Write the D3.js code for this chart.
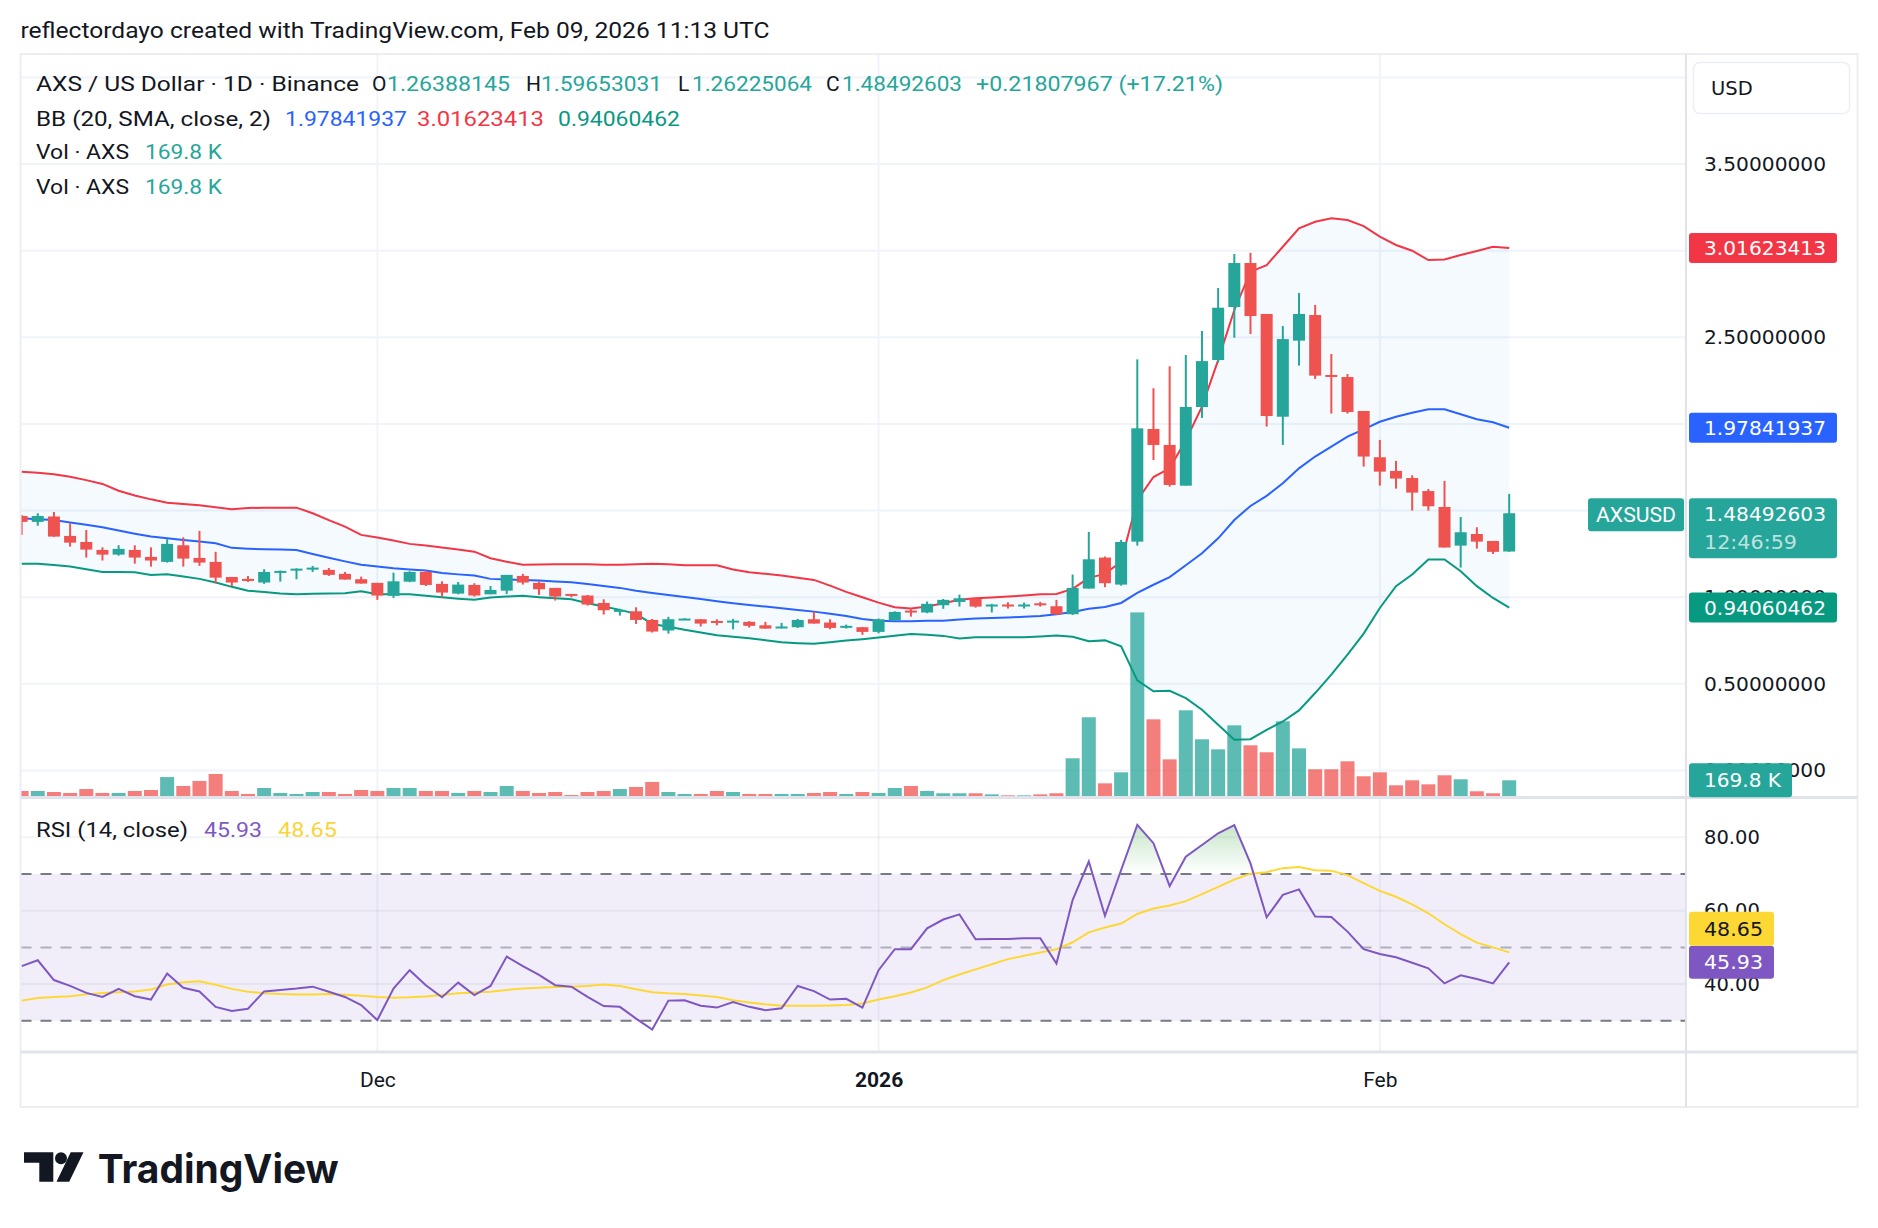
<!DOCTYPE html>
<html><head><meta charset="utf-8">
<script src="https://cdn.jsdelivr.net/npm/d3@7"></script>
<style>html,body{margin:0;padding:0;background:#fff;}svg{display:block}</style>
</head><body>
<script>
// ---------------- DATA ----------------
const dates = ["2025-11-09","2025-11-10","2025-11-11","2025-11-12","2025-11-13","2025-11-14","2025-11-15","2025-11-16","2025-11-17","2025-11-18",
"2025-11-19","2025-11-20","2025-11-21","2025-11-22","2025-11-23","2025-11-24","2025-11-25","2025-11-26","2025-11-27","2025-11-28",
"2025-11-29","2025-11-30","2025-12-01","2025-12-02","2025-12-03","2025-12-04","2025-12-05","2025-12-06","2025-12-07","2025-12-08",
"2025-12-09","2025-12-10","2025-12-11","2025-12-12","2025-12-13","2025-12-14","2025-12-15","2025-12-16","2025-12-17","2025-12-18",
"2025-12-19","2025-12-20","2025-12-21","2025-12-22","2025-12-23","2025-12-24","2025-12-25","2025-12-26","2025-12-27","2025-12-28",
"2025-12-29","2025-12-30","2025-12-31","2026-01-01","2026-01-02","2026-01-03","2026-01-04","2026-01-05","2026-01-06","2026-01-07",
"2026-01-08","2026-01-09","2026-01-10","2026-01-11","2026-01-12","2026-01-13","2026-01-14","2026-01-15","2026-01-16","2026-01-17",
"2026-01-18","2026-01-19","2026-01-20","2026-01-21","2026-01-22","2026-01-23","2026-01-24","2026-01-25","2026-01-26","2026-01-27",
"2026-01-28","2026-01-29","2026-01-30","2026-01-31","2026-02-01","2026-02-02","2026-02-03","2026-02-04","2026-02-05","2026-02-06",
"2026-02-07","2026-02-08","2026-02-09"];

const open = [1.469,1.435,1.466,1.354,1.319,1.273,1.246,1.273,1.233,1.204,
1.3,1.227,1.204,1.117,1.106,1.085,1.148,1.158,1.16,1.158,
1.135,1.104,1.083,1.008,1.09,1.146,1.077,1.021,1.071,1.017,
1.038,1.123,1.083,1.054,1.019,1.01,0.967,0.919,0.919,0.869,
0.808,0.873,0.873,0.863,0.858,0.858,0.838,0.825,0.827,0.873,
0.854,0.827,0.827,0.8,0.867,0.923,0.912,0.954,0.973,0.992,
0.952,0.958,0.95,0.965,0.948,0.902,1.05,1.229,1.073,1.321,
1.971,1.879,1.644,2.098,2.369,2.675,2.929,2.635,2.042,2.481,
2.629,2.283,2.271,2.075,1.808,1.729,1.688,1.613,1.521,1.298,
1.365,1.325,1.26388145];

const high = [1.475,1.485,1.492,1.427,1.388,1.288,1.3,1.3,1.288,1.335,
1.346,1.383,1.262,1.117,1.123,1.162,1.154,1.167,1.181,1.169,
1.146,1.119,1.083,1.142,1.15,1.154,1.092,1.088,1.081,1.065,
1.129,1.135,1.092,1.054,1.019,1.013,0.988,0.933,0.942,0.875,
0.887,0.879,0.873,0.873,0.875,0.862,0.858,0.852,0.875,0.917,
0.873,0.842,0.827,0.877,0.919,0.935,0.975,0.99,1.015,0.992,
0.962,0.971,0.969,0.973,0.985,1.131,1.377,1.235,1.331,2.373,
2.206,2.333,2.398,2.537,2.785,2.981,2.988,2.635,2.565,2.756,
2.687,2.404,2.288,2.075,1.908,1.787,1.704,1.625,1.671,1.463,
1.404,1.325,1.59653031];

const low = [1.36,1.413,1.349,1.292,1.229,1.212,1.24,1.194,1.177,1.2,
1.177,1.181,1.081,1.065,1.088,1.077,1.09,1.104,1.146,1.123,
1.102,1.079,0.985,0.996,1.087,1.065,1.004,1.017,1.004,1.017,
1.019,1.073,1.013,0.981,1.0,0.952,0.9,0.894,0.846,0.796,
0.79,0.873,0.831,0.838,0.815,0.825,0.819,0.821,0.823,0.848,
0.815,0.819,0.783,0.792,0.863,0.888,0.908,0.933,0.946,0.94,
0.912,0.935,0.935,0.946,0.898,0.898,1.05,1.058,1.067,1.298,
1.792,1.638,1.644,2.035,2.354,2.498,2.519,1.985,1.879,2.337,
2.26,2.06,2.06,1.754,1.644,1.627,1.5,1.5,1.287,1.171,
1.281,1.25,1.26225064];

const close = [1.435,1.469,1.35,1.315,1.275,1.246,1.279,1.229,1.212,1.308,
1.223,1.2,1.113,1.085,1.094,1.146,1.152,1.165,1.171,1.129,
1.102,1.079,1.01,1.092,1.146,1.071,1.027,1.073,1.01,1.042,
1.129,1.085,1.046,1.004,1.012,0.958,0.925,0.927,0.869,0.802,
0.873,0.877,0.848,0.854,0.865,0.835,0.819,0.831,0.869,0.848,
0.823,0.835,0.8,0.873,0.915,0.912,0.962,0.985,0.994,0.946,
0.958,0.95,0.958,0.954,0.902,1.054,1.219,1.081,1.319,1.975,
1.879,1.648,2.098,2.363,2.671,2.929,2.623,2.046,2.49,2.635,
2.279,2.277,2.069,1.812,1.725,1.685,1.604,1.525,1.287,1.375,
1.321,1.262,1.48492603];

// volume in thousands of AXS
const volume = [61,61,51,41,81,41,41,61,71,203,
112,163,234,61,31,92,41,31,51,51,
31,71,61,92,92,61,61,41,61,51,
112,61,41,51,20,51,61,81,102,153,
51,31,31,61,51,31,31,31,31,41,
51,31,51,41,92,112,61,38,38,38,
27,17,17,27,38,394,811,139,251,1878,
790,383,882,587,485,729,526,455,770,495,
282,282,363,211,251,119,170,129,221,180,
58,38,169.8];

const bbUpper = [1.725,1.718,1.71,1.696,1.676,1.654,1.615,1.587,1.565,1.546,
1.538,1.531,1.52,1.508,1.515,1.517,1.517,1.517,1.485,1.445,
1.408,1.36,1.345,1.327,1.308,1.298,1.287,1.275,1.263,1.225,
1.205,1.188,1.189,1.19,1.19,1.19,1.188,1.187,1.19,1.194,
1.19,1.185,1.185,1.185,1.16,1.144,1.135,1.125,1.113,1.1,
1.067,1.031,1.0,0.969,0.942,0.935,0.946,0.965,0.985,0.994,
0.999,1.004,1.01,1.017,1.019,1.048,1.112,1.135,1.205,1.56,
1.694,1.744,1.906,2.1,2.369,2.658,2.879,2.917,3.023,3.129,
3.167,3.187,3.177,3.142,3.081,3.033,3.0,2.946,2.95,2.975,
2.998,3.023,3.01623413];

const bbBasis = [1.456,1.45,1.446,1.432,1.418,1.404,1.385,1.367,1.35,1.34,
1.331,1.322,1.312,1.285,1.28,1.277,1.275,1.273,1.25,1.228,
1.207,1.187,1.177,1.167,1.16,1.154,1.14,1.132,1.125,1.106,
1.103,1.1,1.096,1.091,1.087,1.077,1.065,1.054,1.038,1.025,
1.013,1.002,0.99,0.977,0.965,0.955,0.946,0.937,0.927,0.917,
0.905,0.892,0.875,0.865,0.862,0.862,0.864,0.865,0.871,0.877,
0.88,0.883,0.887,0.892,0.902,0.915,0.933,0.944,0.967,1.025,
1.072,1.116,1.185,1.254,1.34,1.446,1.527,1.585,1.658,1.744,
1.812,1.869,1.927,1.969,2.013,2.042,2.065,2.085,2.085,2.056,
2.027,2.01,1.97841937];

const bbLower = [1.194,1.194,1.186,1.177,1.162,1.146,1.145,1.144,1.129,1.133,
1.12,1.106,1.085,1.06,1.038,1.03,1.022,1.017,1.02,1.022,
1.023,1.035,1.017,1.017,1.017,1.008,1.0,0.992,0.985,0.998,
1.004,1.008,1.0,0.994,0.988,0.965,0.946,0.927,0.904,0.846,
0.83,0.812,0.797,0.781,0.772,0.763,0.752,0.74,0.735,0.731,
0.74,0.75,0.758,0.767,0.778,0.788,0.783,0.777,0.762,0.769,
0.769,0.769,0.769,0.774,0.779,0.772,0.746,0.751,0.717,0.52,
0.457,0.46,0.418,0.351,0.264,0.177,0.181,0.235,0.283,0.347,
0.447,0.553,0.669,0.79,0.938,1.064,1.131,1.218,1.218,1.15,
1.064,0.996,0.94060462];

const rsi = [44.9,46.5,41.1,39.5,37.6,36.5,38.7,36.7,35.8,42.9,
39.0,38.0,33.8,32.7,33.3,38.0,38.4,38.8,39.3,37.9,
36.5,34.3,30.2,38.8,43.8,39.7,36.4,40.4,37.0,39.5,
47.5,44.9,42.5,39.7,39.3,36.5,34.0,33.8,30.6,27.6,
35.5,35.6,34.1,33.6,35.1,33.8,32.9,33.4,39.5,38.1,
35.8,36.0,33.6,43.8,49.5,49.5,55.2,57.6,59.0,52.2,
52.3,52.3,52.5,52.5,45.6,62.9,73.4,58.6,71.1,83.4,
78.4,66.7,74.7,77.9,81.1,83.3,72.9,58.2,64.3,65.8,
58.4,58.3,54.3,49.5,48.2,47.3,45.8,44.3,40.2,42.4,
41.4,40.2,45.93];

const rsiMA = [35.5,36.2,36.5,36.7,37.2,37.6,37.8,38.0,38.5,39.9,
40.5,40.8,39.8,38.7,37.9,37.5,37.3,37.2,37.2,37.3,
37.1,36.8,36.5,36.3,36.4,36.6,37.0,37.5,37.7,37.9,
38.4,38.8,39.0,39.2,39.3,39.5,39.9,39.5,38.6,37.8,
37.5,37.3,36.9,36.5,35.6,35.0,34.5,34.1,34.1,34.1,
34.2,34.3,34.7,35.8,36.7,37.7,39.1,41.1,42.6,44.0,
45.4,46.8,47.7,48.6,49.5,51.4,54.1,55.4,56.5,59.1,
60.6,61.4,62.6,64.5,66.5,68.5,70.1,70.5,71.6,71.9,
71.0,70.9,69.7,67.5,65.4,63.8,61.7,59.3,56.3,53.6,
51.3,50.0,48.65];

const priceGrid = [0,0.5,1.0,1.5,2.0,2.5,3.0,3.5,4.0];
const priceLabels = [0,0.5,1.0,2.5,3.5];      // the others sit under value boxes
const rsiGridTicks = [80,60,40];
const rsiAxisLabels = [80,60,40];
const rsiLevels = [70,50,30];
const timeTicks = ["2025-12-01","2026-01-01","2026-02-01"];
const timeLabels = ["Dec","2026","Feb"];

// ---------------- LAYOUT ----------------
const W = 1878, H = 1228;
const L = 20.5, R = 1686, T = 54, PB = 797.5, RB = 1052, B = 1107, RR = 1857.5;
const F1 = "Roboto, 'Noto Sans', sans-serif";
const F2 = "'DejaVu Sans', Verdana, sans-serif";
const UP = "#26a69a", DN = "#ef5350";
const INK = "#131722";

const parse = d3.utcParse("%Y-%m-%d");
const D = dates.map((s,i)=>({date:parse(s), o:open[i], h:high[i], l:low[i], c:close[i], v:volume[i],
  u:bbUpper[i], m:bbBasis[i], lo:bbLower[i], r:rsi[i], ma:rsiMA[i]}));

const svg = d3.select("body").append("svg").attr("width",W).attr("height",H)
  .style("font-family",F1);

const x = d3.scaleUtc().domain([parse(dates[0]), parse(dates[dates.length-1])]).range([21.6,1509.2]);
const y = d3.scaleLinear().domain([0,3.5]).range([770.5,164.1]);
const yv = d3.scaleLinear().domain([0,1000]).range([797,797-98.3]);
const yr = d3.scaleLinear().domain([30,80]).range([1020.8,837.3]);

const defs = svg.append("defs");
defs.append("clipPath").attr("id","cMain").append("rect").attr("x",L).attr("y",T).attr("width",R-L).attr("height",PB-T);
defs.append("clipPath").attr("id","cRsi").append("rect").attr("x",L).attr("y",PB).attr("width",R-L).attr("height",RB-PB);
defs.append("clipPath").attr("id","cOB").append("rect").attr("x",L).attr("y",PB).attr("width",R-L).attr("height",yr(70)-PB);
const grad = defs.append("linearGradient").attr("id","gOB").attr("gradientUnits","userSpaceOnUse")
  .attr("x1",0).attr("x2",0).attr("y1",yr(85)).attr("y2",yr(70));
grad.append("stop").attr("offset",0).attr("stop-color","#4caf50").attr("stop-opacity",0.35);
grad.append("stop").attr("offset",1).attr("stop-color","#4caf50").attr("stop-opacity",0.0);

function txt(g, s, xx, yy, o={}) {
  const t = g.append("text").attr("x",xx).attr("y",yy).text(s)
    .attr("font-size",o.size||21).attr("fill",o.fill||INK)
    .attr("font-family",o.font||F1).attr("font-weight",o.weight||400)
    .attr("text-anchor",o.anchor||"start").attr("dominant-baseline","central");
  if (o.len) t.attr("textLength",o.len).attr("lengthAdjust","spacingAndGlyphs");
  if (o.opacity) t.attr("fill-opacity",o.opacity);
  return t;
}
txt(svg,"reflectordayo created with TradingView.com, Feb 09, 2026 11:13 UTC",20.4,30,{size:22,len:749});

// ---------------- GRID ----------------
const grid = svg.append("g");
grid.selectAll(".hg").data(priceGrid).join("line")
  .attr("x1",L).attr("x2",R).attr("y1",d=>y(d)).attr("y2",d=>y(d))
  .attr("stroke","#f0f3fa").attr("stroke-width",2);
grid.selectAll(".vg").data(timeTicks).join("line")
  .attr("x1",d=>x(parse(d))).attr("x2",d=>x(parse(d))).attr("y1",T).attr("y2",RB)
  .attr("stroke","#f0f3fa").attr("stroke-width",2);

// ---------------- MAIN PANE ----------------
const main = svg.append("g").attr("clip-path","url(#cMain)");
main.append("path").datum(D)
  .attr("d", d3.area().x(d=>x(d.date)).y0(d=>y(d.lo)).y1(d=>y(d.u)))
  .attr("fill","rgba(33,150,243,0.05)");
main.selectAll(".vol").data(D).join("rect")
  .attr("x",d=>x(d.date)-7).attr("width",14)
  .attr("y",d=>yv(d.v)).attr("height",d=>yv(0)-yv(d.v))
  .attr("fill",d=>d.c>=d.o?UP:DN).attr("fill-opacity",0.75);
const lineOf = key => d3.line().x(d=>x(d.date)).y(d=>y(d[key]));
main.append("path").datum(D).attr("d",lineOf("u")).attr("fill","none").attr("stroke","#f23645").attr("stroke-width",2);
main.append("path").datum(D).attr("d",lineOf("m")).attr("fill","none").attr("stroke","#2962ff").attr("stroke-width",2);
main.append("path").datum(D).attr("d",lineOf("lo")).attr("fill","none").attr("stroke","#089981").attr("stroke-width",2);
const cg = main.selectAll(".cdl").data(D).join("g");
cg.append("rect").attr("x",d=>x(d.date)-1).attr("width",2)
  .attr("y",d=>y(d.h)).attr("height",d=>Math.max(1,y(d.l)-y(d.h)))
  .attr("fill",d=>d.c>=d.o?UP:DN);
cg.append("rect").attr("x",d=>x(d.date)-6).attr("width",12)
  .attr("y",d=>y(Math.max(d.o,d.c))).attr("height",d=>Math.max(2,Math.abs(y(d.o)-y(d.c))))
  .attr("fill",d=>d.c>=d.o?UP:DN);

// ---------------- RSI PANE ----------------
const rp = svg.append("g").attr("clip-path","url(#cRsi)");
rp.append("rect").attr("x",L).attr("width",R-L).attr("y",yr(70)).attr("height",yr(30)-yr(70))
  .attr("fill","rgba(126,87,194,0.1)");
rp.selectAll(".rg").data(rsiGridTicks).join("line")
  .attr("x1",L).attr("x2",R).attr("y1",d=>yr(d)).attr("y2",d=>yr(d))
  .attr("stroke","rgba(42,46,57,0.06)").attr("stroke-width",2);
rp.selectAll(".rl").data(rsiLevels).join("line")
  .attr("x1",L).attr("x2",R).attr("y1",d=>yr(d)).attr("y2",d=>yr(d))
  .attr("stroke",d=>d===50?"rgba(120,123,134,0.55)":"#787b86").attr("stroke-width",2)
  .attr("stroke-dasharray","11,9");
rp.append("path").datum(D).attr("clip-path","url(#cOB)")
  .attr("d", d3.area().x(d=>x(d.date)).y0(yr(70)).y1(d=>yr(d.r)))
  .attr("fill","url(#gOB)");
rp.append("path").datum(D).attr("d", d3.line().x(d=>x(d.date)).y(d=>yr(d.ma)))
  .attr("fill","none").attr("stroke","#fdd835").attr("stroke-width",2);
rp.append("path").datum(D).attr("d", d3.line().x(d=>x(d.date)).y(d=>yr(d.r)))
  .attr("fill","none").attr("stroke","#7e57c2").attr("stroke-width",2);

// ---------------- FRAME ----------------
const fr = svg.append("g");
fr.append("rect").attr("x",L).attr("y",T).attr("width",RR-L).attr("height",B-T)
  .attr("fill","none").attr("stroke","#eceef2").attr("stroke-width",2);
fr.append("line").attr("x1",R).attr("x2",R).attr("y1",T).attr("y2",B).attr("stroke","#e0e3eb").attr("stroke-width",2);
fr.append("line").attr("x1",L).attr("x2",RR).attr("y1",PB).attr("y2",PB).attr("stroke","#e0e3eb").attr("stroke-width",3);
fr.append("line").attr("x1",L).attr("x2",RR).attr("y1",RB).attr("y2",RB).attr("stroke","#e0e3eb").attr("stroke-width",3);

// ---------------- AXES ----------------
const ay = svg.append("g").attr("transform",`translate(${R},0)`)
  .call(d3.axisRight(y).tickValues(priceLabels).tickFormat(d3.format(".8f")).tickSize(0).tickPadding(18));
ay.select(".domain").remove();
ay.selectAll("text").attr("font-family",F2).attr("font-size",19.5).attr("fill",INK)
  .attr("textLength",122).attr("lengthAdjust","spacingAndGlyphs");

const ar = svg.append("g").attr("transform",`translate(${R},0)`)
  .call(d3.axisRight(yr).tickValues(rsiAxisLabels).tickFormat(d3.format(".2f")).tickSize(0).tickPadding(18));
ar.select(".domain").remove();
ar.selectAll("text").attr("font-family",F2).attr("font-size",19.5).attr("fill",INK);

const ax = svg.append("g").attr("transform",`translate(0,${RB})`)
  .call(d3.axisBottom(x).tickValues(timeTicks.map(parse)).tickFormat((d,i)=>timeLabels[i]).tickSize(0).tickPadding(20));
ax.select(".domain").remove();
ax.selectAll("text").attr("font-family",F1).attr("font-size",21).attr("fill",INK)
  .attr("font-weight",(d,i)=>i===1?700:400);

// USD box
svg.append("rect").attr("x",1693.5).attr("y",62.5).attr("width",156).attr("height",51).attr("rx",6)
  .attr("fill","#fff").attr("stroke","#eceef2").attr("stroke-width",1.5);
txt(svg,"USD",1711,88,{font:F2,size:19.5});

// value labels on the scale
function box(xx,yy,w,h,col){ return svg.append("rect").attr("x",xx).attr("y",yy).attr("width",w).attr("height",h).attr("rx",3).attr("fill",col); }
const last = D[D.length-1];
box(1689,y(last.u)-15,148,30,"#f23645");
txt(svg,d3.format(".8f")(last.u),1704,y(last.u)+1,{font:F2,size:19.5,fill:"#fff",len:122});
box(1689,y(last.m)-15,148,30,"#2962ff");
txt(svg,d3.format(".8f")(last.m),1704,y(last.m)+1,{font:F2,size:19.5,fill:"#fff",len:122});
box(1689,y(last.c)-15,148,60,UP);
txt(svg,d3.format(".8f")(last.c),1704,y(last.c)+1,{font:F2,size:19.5,fill:"#fff",len:122});
txt(svg,"12:46:59",1704,y(last.c)+29,{font:F2,size:19.5,fill:"#fff",opacity:0.7,len:93});
box(1689,y(last.lo)-15,148,30,"#089981");
txt(svg,d3.format(".8f")(last.lo),1704,y(last.lo)+1,{font:F2,size:19.5,fill:"#fff",len:122});
box(1588,y(last.c)-15,96,33,UP);
txt(svg,"AXSUSD",1636,y(last.c)+1.5,{size:21,fill:"#fff",anchor:"middle",len:80});
box(1689,yv(last.v)-17,103,34,UP);
txt(svg,"169.8 K",1704,yv(last.v)+0.5,{font:F2,size:19.5,fill:"#fff",len:77});
box(1689,yr(last.r)-16.5,85,33,"#7e57c2");
txt(svg,d3.format(".2f")(last.r),1704,yr(last.r)+0.5,{font:F2,size:19.5,fill:"#fff",len:59});
box(1689,yr(last.r)-16.5-34,85,34,"#fdd835");
txt(svg,d3.format(".2f")(last.ma),1704,yr(last.r)-33,{font:F2,size:19.5,fill:INK,len:59});

// ---------------- LEGENDS ----------------
const lg = svg.append("g");
txt(lg,"AXS / US Dollar · 1D · Binance",36,84,{len:323});
txt(lg,"O",372,84); txt(lg,d3.format(".8f")(last.o),387,84,{fill:UP,len:123});
txt(lg,"H",526,84); txt(lg,d3.format(".8f")(last.h),541,84,{fill:UP,len:121});
txt(lg,"L",678,84); txt(lg,d3.format(".8f")(last.l),692,84,{fill:UP,len:120});
txt(lg,"C",826,84); txt(lg,d3.format(".8f")(last.c),842,84,{fill:UP,len:120});
txt(lg,"+0.21807967 (+17.21%)",976,84,{fill:UP,len:247});
txt(lg,"BB (20, SMA, close, 2)",36,118.6,{len:235});
txt(lg,d3.format(".8f")(last.m),285,118.6,{fill:"#2962ff",len:122});
txt(lg,d3.format(".8f")(last.u),417,118.6,{fill:"#f23645",len:127});
txt(lg,d3.format(".8f")(last.lo),558,118.6,{fill:"#089981",len:122});
[152.3,186.8].forEach(yy=>{
  txt(lg,"Vol · AXS",36,yy,{len:93});
  txt(lg,"169.8 K",145,yy,{fill:UP,len:77});
});
txt(lg,"RSI (14, close)",36,830,{len:152});
txt(lg,d3.format(".2f")(last.r),204,830,{fill:"#7e57c2",len:58});
txt(lg,d3.format(".2f")(last.ma),278,830,{fill:"#f9d43a",len:59});

// ---------------- LOGO ----------------
const logo = svg.append("g").attr("fill","#131722");
logo.append("path").attr("d","M24,1152.3H53.3V1181.7H39.3V1162.7H24Z");
logo.append("circle").attr("cx",61).attr("cy",1158.3).attr("r",6);
logo.append("path").attr("d","M70.7,1152.3H83.5L69.2,1181.7H56.5Z");
txt(logo,"TradingView",97.7,1168,{size:40,weight:700,font:"Inter, Roboto, sans-serif",len:241});
</script>
</body></html>
